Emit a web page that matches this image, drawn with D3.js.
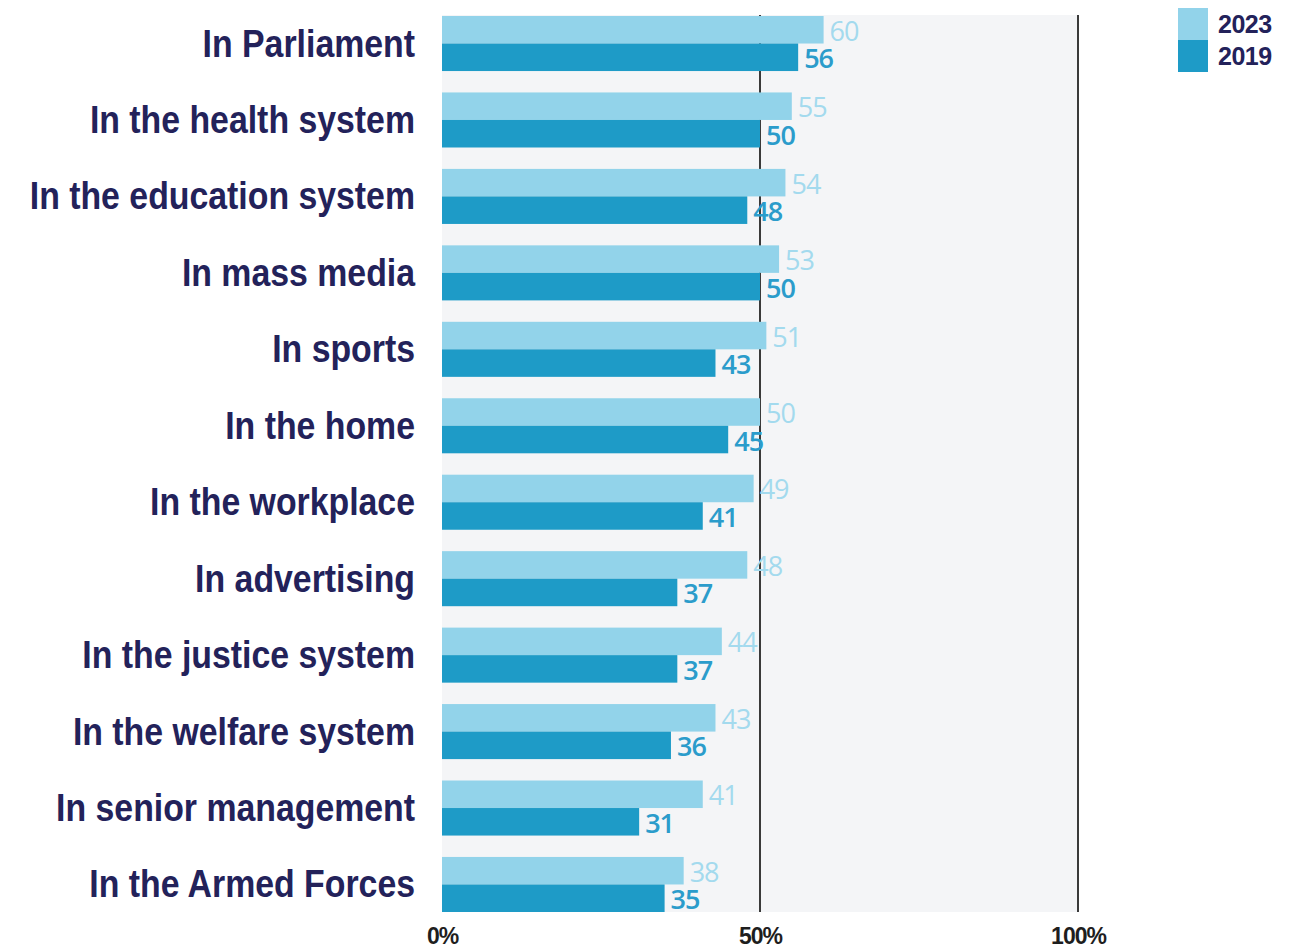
<!DOCTYPE html>
<html>
<head>
<meta charset="utf-8">
<script src="https://cdn.jsdelivr.net/npm/d3@7"></script>
<style>
  html, body { margin: 0; padding: 0; background: #ffffff; }
  svg { display: block; }
</style>
</head>
<body>
<svg id="chart" width="1297" height="948"></svg>
<script>
// Share (%) by area, two survey years
const categories = [
  "In Parliament",
  "In the health system",
  "In the education system",
  "In mass media",
  "In sports",
  "In the home",
  "In the workplace",
  "In advertising",
  "In the justice system",
  "In the welfare system",
  "In senior management",
  "In the Armed Forces"
];
const values2023 = [60, 55, 54, 53, 51, 50, 49, 48, 44, 43, 41, 38];
const values2019 = [56, 50, 48, 50, 43, 45, 41, 37, 37, 36, 31, 35];
const seriesNames = ["2023", "2019"];
const tickValues = [0, 50, 100];
const tickLabels = ["0%", "50%", "100%"];

const colors = { "2023": "#92d3ea", "2019": "#1e9bc7" };
const labelColors = { "2023": "#a3daee", "2019": "#2b9ccb" };

const svg = d3.select("#chart");
const plotLeft = 442, plotRight = 1078, plotTop = 16, plotBottom = 912;

const x = d3.scaleLinear().domain([0, 100]).range([plotLeft, plotRight]);
const y = d3.scaleBand().domain(categories).range([plotTop, plotBottom])
  .paddingInner(0.28).paddingOuter(0);
const sub = d3.scaleBand().domain(seriesNames).range([0, y.bandwidth()]);

// plot panel
svg.append("rect")
  .attr("x", plotLeft).attr("y", plotTop - 1)
  .attr("width", plotRight - plotLeft).attr("height", plotBottom - plotTop + 1)
  .attr("fill", "#f4f5f7");

// reference lines at 50% and 100%
svg.append("g").selectAll("line")
  .data(tickValues.filter(d => d > 0))
  .join("line")
  .attr("x1", d => x(d)).attr("x2", d => x(d))
  .attr("y1", plotTop - 1).attr("y2", plotBottom)
  .attr("stroke", "#3a3a3a").attr("stroke-width", 2);

const rows = categories.map((c, i) => ({
  cat: c,
  series: [
    { key: "2023", v: values2023[i] },
    { key: "2019", v: values2019[i] }
  ]
}));

const groups = svg.append("g").selectAll("g")
  .data(rows).join("g")
  .attr("transform", d => `translate(0,${y(d.cat)})`);

groups.selectAll("rect")
  .data(d => d.series).join("rect")
  .attr("x", x(0))
  .attr("y", d => sub(d.key))
  .attr("width", d => x(d.v) - x(0))
  .attr("height", sub.bandwidth())
  .attr("fill", d => colors[d.key]);

groups.selectAll("text.val")
  .data(d => d.series).join("text")
  .attr("class", "val")
  .attr("x", d => x(d.v) + 6)
  .attr("y", d => sub(d.key) + sub.bandwidth() / 2 + 11)
  .attr("font-family", "'Open Sans', 'Noto Sans', sans-serif")
  .attr("font-size", 27)
  .attr("font-weight", d => d.key === "2019" ? 600 : 400)
  .attr("letter-spacing", -1)
  .attr("fill", d => labelColors[d.key])
  .text(d => d.v);

// category labels, set in a condensed bold face
svg.append("g").selectAll("text")
  .data(categories).join("text")
  .attr("transform", d => `translate(415,${y(d) + y.bandwidth() / 2 + 13}) scale(0.89,1)`)
  .attr("text-anchor", "end")
  .attr("font-family", "'Liberation Sans', Arial, sans-serif")
  .attr("font-size", 38)
  .attr("font-weight", 700)
  .attr("fill", "#23225a")
  .text(d => d);

// x axis
const xAxis = d3.axisBottom(x).tickValues(tickValues)
  .tickFormat((d, i) => tickLabels[i]).tickSize(0).tickPadding(0);
const ax = svg.append("g").attr("transform", `translate(0,${plotBottom + 32})`).call(xAxis);
ax.select(".domain").remove();
ax.selectAll("text")
  .attr("dy", 0)
  .attr("font-family", "'Liberation Sans', Arial, sans-serif")
  .attr("font-size", 23)
  .attr("font-weight", 700)
  .attr("letter-spacing", -1)
  .attr("fill", "#1e1e1e");

// legend
const legend = svg.append("g").attr("transform", "translate(1178,8)");
legend.selectAll("rect")
  .data(seriesNames).join("rect")
  .attr("x", 0).attr("y", (d, i) => i * 32)
  .attr("width", 30).attr("height", 32)
  .attr("fill", d => colors[d]);
legend.selectAll("text")
  .data(seriesNames).join("text")
  .attr("x", 40).attr("y", (d, i) => i * 32 + 25)
  .attr("font-family", "'Liberation Sans', Arial, sans-serif")
  .attr("font-size", 25)
  .attr("font-weight", 700)
  .attr("letter-spacing", -0.5)
  .attr("fill", "#23225a")
  .text(d => d);
</script>
</body>
</html>
